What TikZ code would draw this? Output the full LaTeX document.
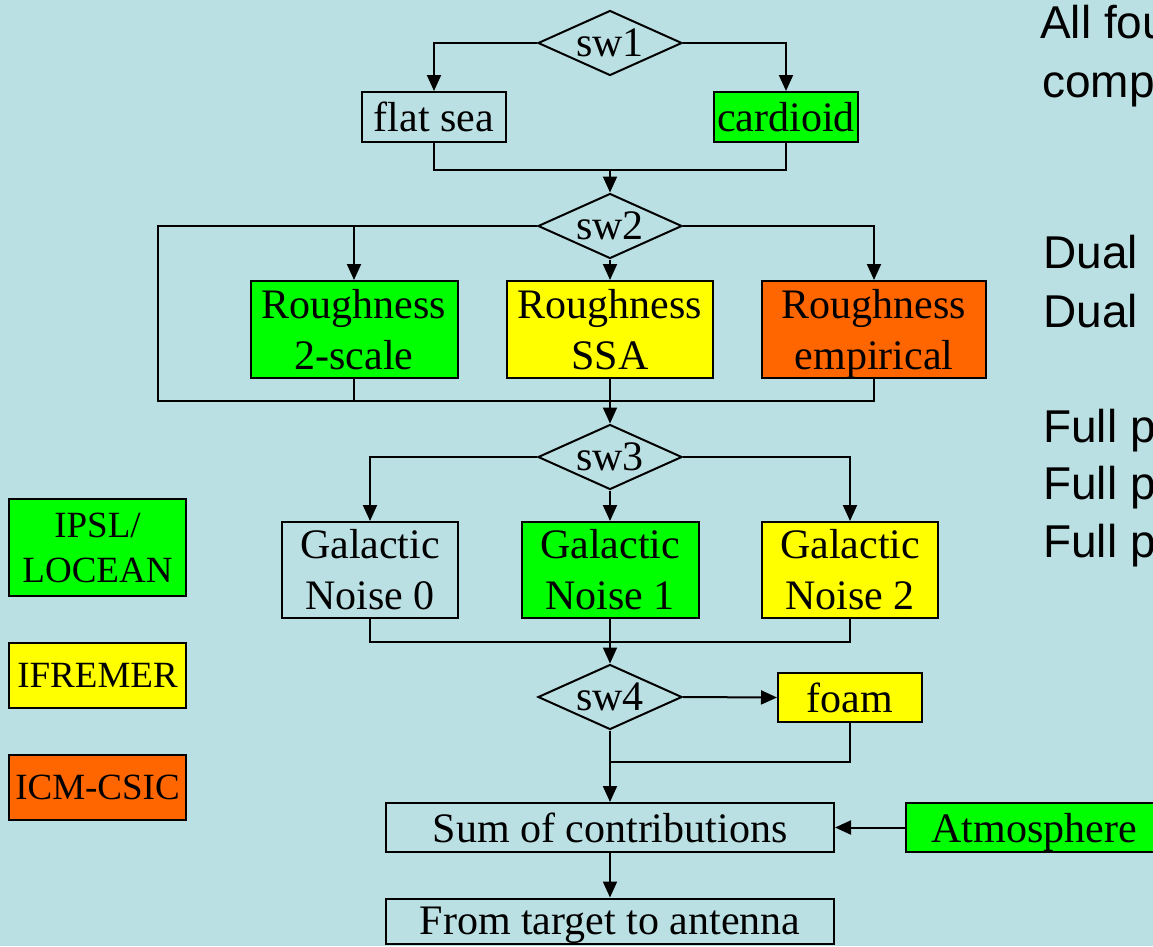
\documentclass[tikz,border=0pt]{standalone}
\usepackage{fontspec}
\setmainfont{Liberation Serif}
\newfontfamily\sansf{Liberation Sans}
\usetikzlibrary{shapes.geometric,arrows.meta}
\definecolor{bg}{RGB}{187,224,227}
\definecolor{grn}{RGB}{0,255,0}
\definecolor{ylw}{RGB}{255,255,0}
\definecolor{org}{RGB}{255,102,0}
\newcommand\mainfs{\fontsize{42}{51}\selectfont}
\newcommand\legfs{\fontsize{37}{45}\selectfont}
\newcommand\sidefs{\sansf\fontsize{46}{58}\selectfont}
\newcommand\nodepth[1]{\raisebox{0pt}[\height][0pt]{#1}}
\begin{document}
\begin{tikzpicture}[x=1pt,y=-1pt,
  box/.style={draw=black,line width=2pt,inner sep=0pt,align=center,font=\mainfs},
  legbox/.style={draw=black,line width=2pt,inner sep=0pt,align=center,font=\legfs,minimum width=177pt},
  sw/.style={diamond,draw=black,line width=2pt,aspect=2.2,inner sep=0pt,
    minimum width=144pt,minimum height=65pt,font=\mainfs},
  conn/.style={line width=2pt},
  arr/.style={line width=2pt,-{Triangle[length=16pt,width=14pt]}},
  side/.style={anchor=base west,inner sep=0pt,font=\sidefs}]
\path[fill=bg] (0,0) rectangle (1153,946);
\clip (0,0) rectangle (1153,946);

% switches
\node[sw] (sw1) at (610,43) {sw1};
\node[sw] (sw2) at (610,226) {sw2};
\node[sw] (sw3) at (610,457) {sw3};
\node[sw] (sw4) at (610,697) {sw4};

% boxes
\node[box,minimum width=144pt,minimum height=50pt] (flat) at (434,117) {flat sea};
\node[box,fill=grn,minimum width=144pt,minimum height=50pt] (card) at (786,117) {cardioid};
\node[box,fill=grn,minimum width=207pt,minimum height=97pt] (r1) at (354,329.5) {Roughness\\2-scale};
\node[box,fill=ylw,minimum width=206pt,minimum height=97pt] (r2) at (610,329.5) {Roughness\\SSA};
\node[box,fill=org,minimum width=224pt,minimum height=97pt] (r3) at (874,329.5) {Roughness\\\nodepth{empirical}};
\node[box,minimum width=176pt,minimum height=96pt] (g0) at (370,570) {Galactic\\Noise 0};
\node[box,fill=grn,minimum width=177pt,minimum height=96pt] (g1) at (610,570) {Galactic\\Noise 1};
\node[box,fill=ylw,minimum width=176pt,minimum height=96pt] (g2) at (850,570) {Galactic\\Noise 2};
\node[box,fill=ylw,minimum width=144pt,minimum height=49pt] (foam) at (850,697.5) {foam};
\node[box,minimum width=448pt,minimum height=49pt] (sum) at (610,827.5) {Sum of contributions};
\node[box,minimum width=448pt,minimum height=45pt] (from) at (610,921) {\nodepth{From target to antenna}};
\node[box,fill=grn,minimum width=256pt,minimum height=49pt] (atm) at (1034,827.5) {\nodepth{Atmosphere}};

% legend
\node[legbox,fill=grn,minimum height=97pt] (leg1) at (97.5,547.5) {IPSL/\\LOCEAN};
\node[legbox,fill=ylw,minimum height=65pt] (leg2) at (97.5,675.5) {IFREMER};
\node[legbox,fill=org,minimum height=65pt] (leg3) at (97.5,787.5) {ICM-CSIC};

% junction points
\coordinate (m1) at (610,170);
\coordinate (byL) at (158,226);
\coordinate (byB) at (158,401);
\coordinate (m2) at (610,401);
\coordinate (m3) at (610,642);
\coordinate (m4) at (610,762);

% level 1
\draw[arr] (sw1.west) -| (flat.north);
\draw[arr] (sw1.east) -| (card.north);
\draw[conn] (flat.south) |- (m1) -| (card.south);
\draw[arr] (m1) -- (sw2.north);

% level 2
\draw[conn] (sw2.west) -- (byL) -- (byB) -- (m2);
\draw[arr] (sw2.west) -| (r1.north);
\draw[arr] (sw2.south) -- (r2.north);
\draw[arr] (sw2.east) -| (r3.north);
\draw[conn] (r1.south) |- (m2) -| (r3.south);
\draw[conn] (r2.south) -- (m2);
\draw[arr] (m2) -- (sw3.north);

% level 3
\draw[arr] (sw3.west) -| (g0.north);
\draw[arr] (sw3.south) -- (g1.north);
\draw[arr] (sw3.east) -| (g2.north);
\draw[conn] (g0.south) |- (m3) -| (g2.south);
\draw[conn] (g1.south) -- (m3);
\draw[arr] (m3) -- (sw4.north);

% level 4
\draw[arr] (sw4.east) -- (foam.west);
\draw[conn] (foam.south) |- (m4);
\draw[arr] (sw4.south) -- (sum.north);
\draw[arr] (atm.west) -- (sum.east);
\draw[arr] (sum.south) -- (from.north);

% side text
\node[side] (t1) at (1040,38) {All fou};
\node[side] (t2) at (1042,97) {comp};
\node[side] (t3) at (1043,268) {Dual};
\node[side] (t4) at (1043,327) {Dual};
\node[side] (t5) at (1043,442) {Full p};
\node[side] (t6) at (1043,499) {Full p};
\node[side] (t7) at (1043,557) {Full p};
\end{tikzpicture}
\end{document}
